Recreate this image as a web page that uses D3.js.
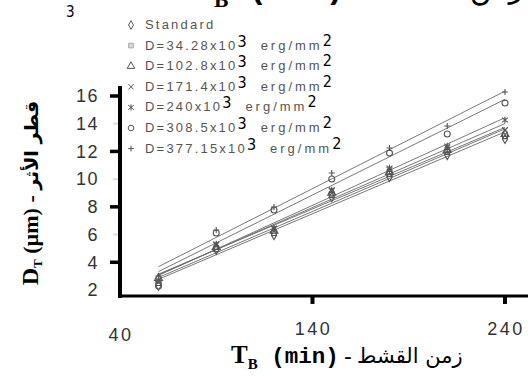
<!DOCTYPE html>
<html>
<head>
<meta charset="utf-8">
<script src="https://cdn.jsdelivr.net/npm/d3@7"></script>
<style>
  html, body { margin: 0; padding: 0; background: #fff; }
  svg { display: block; }
</style>
</head>
<body>
<script>
// Etching time (min) for every measured point
const timeMin = [60, 90, 120, 150, 180, 210, 240];

// Track diameter D_T (µm) per fluence
const standard = [2.3, 4.9, 5.96, 8.7, 10.15, 11.74, 12.9];
const d34  = [2.5, 4.96, 6.11, 8.86, 10.37, 11.96, 13.1];
const d102 = [2.86, 5.1, 6.26, 9.0, 10.51, 12.1, 13.25];
const d171 = [2.65, 5.25, 6.4, 9.14, 10.66, 12.25, 13.54];
const d240 = [2.72, 5.32, 6.47, 9.22, 10.8, 12.39, 14.27];
const d308 = [2.29, 6.11, 7.77, 10.01, 11.88, 13.26, 15.49];
const d377 = [3.0, 6.33, 7.99, 10.44, 12.25, 13.83, 16.29];

const seriesLabels = ["Standard", "D=34.28x10", "D=102.8x10", "D=171.4x10",
                      "D=240x10", "D=308.5x10", "D=377.15x10"];
const seriesValues = [standard, d34, d102, d171, d240, d308, d377];

const yTicks = [2, 4, 6, 8, 10, 12, 14, 16];
const yMajorTicks = [4, 8, 12, 16];
const xTicks = [40, 140, 240];

const W = 528, H = 376;
const svg = d3.select("body").append("svg")
  .attr("width", W).attr("height", H)
  .style("background", "#fff");

const x = d3.scaleLinear().domain([40, 240]).range([120, 505]);
const y = d3.scaleLinear().domain([2, 16]).range([290, 96]);

// stroke-only marker shapes
const symX = { draw(ctx, size) { const r = Math.sqrt(size) / 2;
  ctx.moveTo(-r, -r); ctx.lineTo(r, r); ctx.moveTo(-r, r); ctx.lineTo(r, -r); } };
const symPlus = { draw(ctx, size) { const r = Math.sqrt(size) / 2;
  ctx.moveTo(-r, 0); ctx.lineTo(r, 0); ctx.moveTo(0, -r); ctx.lineTo(0, r); } };
const symAsterisk = { draw(ctx, size) { const r = Math.sqrt(size) / 2;
  ctx.moveTo(-r, -r * 0.8); ctx.lineTo(r, r * 0.8); ctx.moveTo(-r, r * 0.8); ctx.lineTo(r, -r * 0.8);
  ctx.moveTo(0, -r * 1.1); ctx.lineTo(0, r * 1.1); } };

const shapes = [d3.symbolDiamond, d3.symbolSquare, d3.symbolTriangle, symX, symAsterisk, d3.symbolCircle, symPlus];
const sizes  = [24, 24, 28, 32, 36, 28, 36];
const legendFill = [null, "#d8d8d8", null, null, null, null, null];

// least-squares trend line of each series
function fit(vals) {
  const mx = d3.mean(timeMin), my = d3.mean(vals);
  let sxy = 0, sxx = 0;
  timeMin.forEach((t, i) => { sxy += (t - mx) * (vals[i] - my); sxx += (t - mx) * (t - mx); });
  const b = sxy / sxx, a = my - b * mx;
  return t => a + b * t;
}

const plot = svg.append("g");
const tMin = d3.min(timeMin), tMax = d3.max(timeMin);
seriesValues.forEach((vals) => {
  const f = fit(vals);
  plot.append("line")
    .attr("x1", x(tMin)).attr("y1", y(f(tMin)))
    .attr("x2", x(tMax)).attr("y2", y(f(tMax)))
    .attr("stroke", "#6a6a6a").attr("stroke-width", 0.9);
});
seriesValues.forEach((vals, k) => {
  plot.selectAll(null).data(vals).join("path")
    .attr("transform", (d, i) => `translate(${x(timeMin[i])},${y(d)})`)
    .attr("d", d3.symbol().type(shapes[k]).size(sizes[k]))
    .attr("fill", "none").attr("stroke", "#555").attr("stroke-width", 1.1);
});

// axes
const axisY0 = y(1.57);
svg.append("line").attr("x1", 120).attr("x2", 120).attr("y1", 86).attr("y2", axisY0 + 2)
  .attr("stroke", "#000").attr("stroke-width", 4);
svg.append("line").attr("x1", 118).attr("x2", W).attr("y1", axisY0).attr("y2", axisY0)
  .attr("stroke", "#000").attr("stroke-width", 3);

const yAxis = svg.append("g").attr("transform", "translate(120,0)")
  .call(d3.axisLeft(y).tickValues(yTicks).tickSize(0).tickPadding(21));
yAxis.select(".domain").remove();
yAxis.selectAll("text")
  .attr("font-family", "'Liberation Sans', Arial, sans-serif")
  .attr("font-size", 18).attr("fill", "#333").attr("letter-spacing", 1.5);

svg.selectAll(".ymaj").data(yMajorTicks).join("line")
  .attr("x1", 110).attr("x2", 120).attr("y1", d => y(d)).attr("y2", d => y(d))
  .attr("stroke", "#000").attr("stroke-width", 3.5);
svg.selectAll(".ymin").data(yTicks.filter(d => !yMajorTicks.includes(d) && d > 2)).join("line")
  .attr("x1", 113).attr("x2", 118).attr("y1", d => y(d)).attr("y2", d => y(d))
  .attr("stroke", "#ddd").attr("stroke-width", 2);

svg.selectAll(".xt").data(xTicks.slice(1)).join("line")
  .attr("x1", d => x(d)).attr("x2", d => x(d)).attr("y1", axisY0).attr("y2", axisY0 + 8)
  .attr("stroke", "#000").attr("stroke-width", 4);
svg.selectAll(".xl").data(xTicks).join("text")
  .attr("x", d => x(d) + 1).attr("y", (d, i) => i === 0 ? 341 : 335)
  .attr("text-anchor", "middle")
  .attr("font-family", "'Liberation Sans', Arial, sans-serif")
  .attr("font-size", 18).attr("fill", "#333").attr("letter-spacing", 2.5)
  .text(d => d);

// axis titles
function xTitle(g) {
  const t = g.append("text").attr("fill", "#000").attr("font-weight", "bold");
  t.append("tspan").attr("font-family", "'Liberation Serif', 'Times New Roman', serif")
    .attr("font-size", 25).text("T");
  t.append("tspan").attr("font-family", "'Liberation Serif', 'Times New Roman', serif")
    .attr("font-size", 15).attr("dy", 6).text("B");
  t.append("tspan").attr("font-family", "'Liberation Mono', 'Courier New', monospace")
    .attr("font-size", 22.5).attr("dy", -6).text(" (min)");
  t.append("tspan").attr("font-family", "'Liberation Serif', 'Times New Roman', serif")
    .attr("font-size", 22).text(" - ");
  t.append("tspan").attr("font-family", "'DejaVu Sans', sans-serif")
    .attr("font-size", 21).attr("font-weight", "normal").text("زمن القشط");
}
xTitle(svg.append("g").attr("transform", "translate(231,363)"));
xTitle(svg.append("g").attr("transform", "translate(190,-2) scale(1.44)"));

const yt = svg.append("text")
  .attr("transform", "translate(38,193) rotate(-90)")
  .attr("text-anchor", "middle").attr("fill", "#000").attr("font-weight", "bold");
yt.append("tspan").attr("font-family", "'Liberation Serif', 'Times New Roman', serif")
  .attr("font-size", 24).text("D");
yt.append("tspan").attr("font-family", "'Liberation Serif', 'Times New Roman', serif")
  .attr("font-size", 13).attr("dy", 4).text("T");
yt.append("tspan").attr("font-family", "'Liberation Serif', 'Times New Roman', serif")
  .attr("font-size", 22).attr("dy", -4).text(" (µm) - ");
yt.append("tspan").attr("font-family", "'DejaVu Sans', sans-serif")
  .attr("font-size", 19).text("قطر الأثر");

// stray exponent digit in the upper left
svg.append("text").attr("x", 66).attr("y", 17)
  .attr("font-family", "'Liberation Sans Narrow', 'DejaVu Sans Condensed', sans-serif")
  .attr("font-size", 15).attr("fill", "#000").text("3");

// legend
const supFont = "'Liberation Sans Narrow', 'DejaVu Sans Condensed', sans-serif";
seriesLabels.forEach((lab, k) => {
  const by = 29 + k * 20.6;
  svg.append("path")
    .attr("transform", `translate(131,${by - 4})`)
    .attr("d", d3.symbol().type(shapes[k]).size(sizes[k] * 0.9))
    .attr("fill", legendFill[k] || "none")
    .attr("stroke", legendFill[k] ? "#aaa" : "#555").attr("stroke-width", 1);
  const t = svg.append("text").attr("x", 145).attr("y", by)
    .attr("font-family", "'Liberation Sans', Arial, sans-serif").attr("font-size", 13).attr("fill", "#555");
  t.append("tspan").attr("letter-spacing", 2.2).text(lab);
  if (k > 0) {
    t.append("tspan").attr("font-family", supFont).attr("font-size", 16).attr("fill", "#000")
      .attr("dy", -3).text("3");
    t.append("tspan").attr("letter-spacing", 3).attr("dx", 14).attr("dy", 3).text("erg/mm");
    t.append("tspan").attr("font-family", supFont).attr("font-size", 16).attr("fill", "#000")
      .attr("dy", -4).text("2");
  }
});
</script>
</body>
</html>
